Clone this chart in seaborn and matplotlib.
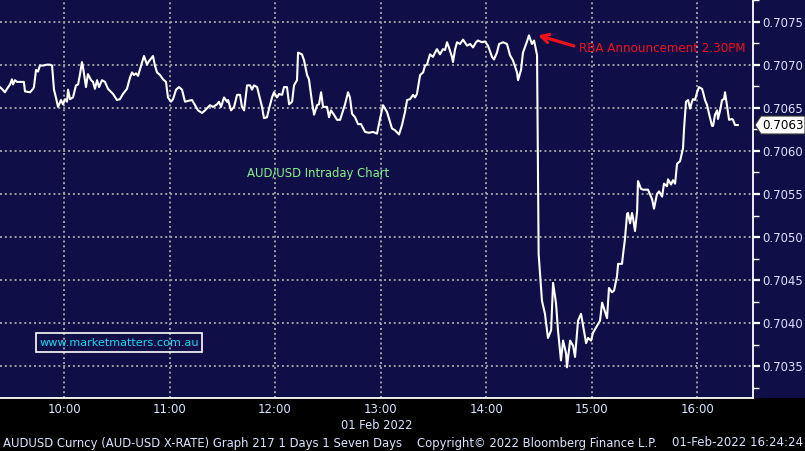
import matplotlib
matplotlib.use("Agg")
import matplotlib.pyplot as plt
import seaborn as sns
import pandas as pd
from matplotlib.patches import Rectangle, Polygon
from matplotlib import transforms

# ---------------- data ----------------
# minutes after 09:00 on 01 Feb 2022
minutes = [23.6, 25.1, 26.4, 27.6, 29.3, 30.4, 31.0, 32.1, 33.3, 36.1, 37.2, 37.8, 40.7, 42.4, 42.9,
           44.1, 45.2, 46.3, 48.1, 50.3, 52.0, 53.2, 54.3, 55.4, 56.6, 58.3, 59.4, 60.6, 61.7, 62.3,
           63.4, 65.1, 66.8, 68.0, 69.1, 70.2, 70.8, 72.5, 73.6, 75.4, 76.5, 77.6, 78.8, 79.9, 81.6,
           83.3, 85.0, 87.9, 90.1, 91.8, 93.5, 95.8, 97.5, 98.7, 99.8, 100.9, 102.1, 104.4, 105.5,
           107.2, 108.3, 110.6, 111.7, 112.9, 114.6, 116.3, 118.0, 119.1, 120.8, 122.0, 123.7, 125.4,
           127.1, 128.8, 130.5, 132.8, 134.5, 136.2, 138.5, 140.2, 143.0, 144.7, 147.0, 148.1, 149.3,
           151.0, 152.7, 153.3, 155.0, 156.7, 158.4, 160.1, 161.2, 162.4, 164.1, 165.8, 166.9, 168.0,
           169.8, 170.9, 172.6, 173.7, 175.4, 176.6, 178.3, 179.4, 181.1, 182.3, 184.0, 185.1, 186.8,
           188.0, 189.7, 190.8, 192.5, 193.1, 195.3, 196.5, 198.2, 199.3, 201.0, 202.2, 203.9, 205.0,
           206.2, 207.3, 209.6, 210.7, 211.8, 213.5, 215.3, 217.0, 218.1, 219.8, 221.5, 222.6, 223.8,
           225.5, 227.2, 228.9, 231.2, 233.4, 235.7, 238.0, 238.6, 239.7, 241.4, 243.7, 246.5, 248.2,
           250.5, 252.2, 253.9, 255.1, 256.8, 258.5, 259.6, 260.7, 262.5, 264.2, 265.3, 266.4, 268.1,
           269.8, 271.0, 272.1, 273.8, 275.5, 276.7, 277.8, 278.9, 280.6, 281.2, 282.4, 283.5, 285.2,
           286.9, 289.2, 290.9, 292.6, 294.3, 295.4, 297.7, 299.4, 301.1, 303.4, 304.5, 306.2, 307.4,
           309.7, 311.9, 313.6, 315.3, 317.6, 318.2, 319.9, 321.0, 323.3, 324.4, 326.1, 327.3, 329.0,
           329.9, 331.8, 333.5, 335.2, 337.0, 338.1, 339.8, 340.9, 342.6, 343.8, 345.5, 346.0, 347.8,
           349.5, 350.6, 352.3, 354.0, 355.2, 356.9, 358.0, 359.7, 360.8, 363.1, 364.8, 366.0, 367.1,
           368.8, 369.9, 371.6, 372.8, 374.5, 375.1, 377.3, 377.9, 379.0, 380.2, 380.7, 381.9, 383.0,
           383.6, 384.7, 385.9, 386.4, 388.1, 389.3, 392.1, 394.4, 395.5, 397.2, 398.4, 400.1, 401.2,
           402.9, 403.5, 405.2, 406.3, 407.5, 408.6, 410.3, 412.0, 412.6, 413.7, 414.9, 416.0, 417.1,
           417.7, 418.8, 420.0, 421.1, 422.8, 423.4, 424.5, 425.7, 426.8, 428.5, 429.1, 430.2, 431.4,
           431.9, 433.1, 434.2, 435.3, 435.9, 437.0, 438.2, 439.9, 440.4, 441.6, 443.3]
prices = [0.70674, 0.70671, 0.70668, 0.70672, 0.70677, 0.70683, 0.70677, 0.70682, 0.70680, 0.70680,
          0.70680, 0.70669, 0.70668, 0.70672, 0.70674, 0.70694, 0.70692, 0.70699, 0.70699, 0.70700,
          0.70700, 0.70699, 0.70671, 0.70662, 0.70651, 0.70659, 0.70654, 0.70660, 0.70657, 0.70671,
          0.70660, 0.70662, 0.70676, 0.70677, 0.70689, 0.70703, 0.70697, 0.70674, 0.70689, 0.70682,
          0.70680, 0.70672, 0.70682, 0.70674, 0.70682, 0.70680, 0.70672, 0.70666, 0.70659, 0.70660,
          0.70666, 0.70672, 0.70685, 0.70691, 0.70688, 0.70690, 0.70687, 0.70703, 0.70710, 0.70700,
          0.70704, 0.70710, 0.70699, 0.70691, 0.70688, 0.70683, 0.70680, 0.70662, 0.70657, 0.70660,
          0.70671, 0.70674, 0.70671, 0.70657, 0.70658, 0.70659, 0.70653, 0.70647, 0.70644, 0.70647,
          0.70653, 0.70651, 0.70654, 0.70657, 0.70651, 0.70662, 0.70657, 0.70659, 0.70647, 0.70651,
          0.70665, 0.70665, 0.70651, 0.70647, 0.70676, 0.70676, 0.70671, 0.70676, 0.70674, 0.70665,
          0.70651, 0.70638, 0.70639, 0.70649, 0.70662, 0.70668, 0.70662, 0.70666, 0.70665, 0.70674,
          0.70674, 0.70654, 0.70657, 0.70676, 0.70682, 0.70714, 0.70712, 0.70705, 0.70688, 0.70683,
          0.70657, 0.70642, 0.70653, 0.70654, 0.70668, 0.70651, 0.70651, 0.70639, 0.70647, 0.70642,
          0.70636, 0.70636, 0.70643, 0.70654, 0.70668, 0.70662, 0.70643, 0.70639, 0.70631, 0.70631,
          0.70622, 0.70621, 0.70622, 0.70620, 0.70626, 0.70637, 0.70653, 0.70645, 0.70626, 0.70624,
          0.70619, 0.70630, 0.70645, 0.70659, 0.70660, 0.70665, 0.70662, 0.70666, 0.70688, 0.70691,
          0.70699, 0.70700, 0.70712, 0.70709, 0.70714, 0.70718, 0.70712, 0.70718, 0.70717, 0.70726,
          0.70720, 0.70709, 0.70703, 0.70718, 0.70726, 0.70724, 0.70729, 0.70722, 0.70724, 0.70720,
          0.70726, 0.70728, 0.70726, 0.70727, 0.70722, 0.70709, 0.70706, 0.70714, 0.70724, 0.70726,
          0.70724, 0.70711, 0.70705, 0.70691, 0.70682, 0.70694, 0.70714, 0.70727, 0.70734, 0.70724,
          0.70728, 0.70711, 0.70480, 0.70426, 0.70411, 0.70383, 0.70392, 0.70447, 0.70423, 0.70392,
          0.70357, 0.70380, 0.70365, 0.70349, 0.70380, 0.70374, 0.70361, 0.70403, 0.70411, 0.70397,
          0.70377, 0.70383, 0.70380, 0.70389, 0.70397, 0.70403, 0.70424, 0.70417, 0.70406, 0.70441,
          0.70436, 0.70438, 0.70455, 0.70469, 0.70469, 0.70480, 0.70498, 0.70527, 0.70528, 0.70516,
          0.70528, 0.70522, 0.70507, 0.70530, 0.70565, 0.70556, 0.70555, 0.70555, 0.70544, 0.70533,
          0.70550, 0.70553, 0.70547, 0.70562, 0.70559, 0.70567, 0.70561, 0.70566, 0.70562, 0.70585,
          0.70588, 0.70603, 0.70626, 0.70657, 0.70659, 0.70649, 0.70657, 0.70660, 0.70659, 0.70668,
          0.70674, 0.70672, 0.70668, 0.70659, 0.70653, 0.70643, 0.70629, 0.70629, 0.70642, 0.70647,
          0.70637, 0.70647, 0.70659, 0.70660, 0.70668, 0.70653, 0.70636, 0.70637, 0.70636, 0.70630,
          0.70630]

hour_ticks = [60, 120, 180, 240, 300, 360, 420]
hour_labels = ["10:00", "11:00", "12:00", "13:00", "14:00", "15:00", "16:00"]
half_hour_ticks = [30, 90, 150, 210, 270, 330, 390, 450]
price_ticks = [0.7035, 0.7040, 0.7045, 0.7050, 0.7055, 0.7060, 0.7065, 0.7070, 0.7075]
price_minor = [0.70325, 0.70375, 0.70425, 0.70475, 0.70525, 0.70575, 0.70625, 0.70675, 0.70725, 0.70775]
last_price = 0.7063
date_label = "01 Feb 2022"
chart_title = "AUD/USD Intraday Chart"
event_label = "RBA Announcement 2.30PM"
event_time, event_price = 329.6, 0.70734
website = "www.marketmatters.com.au"
footer_left = "AUDUSD Curncy (AUD-USD X-RATE) Graph 217 1 Days 1 Seven Days"
footer_mid = "Copyright\u00a9 2022 Bloomberg Finance L.P."
footer_right = "01-Feb-2022 16:24:24"

df = pd.DataFrame({"minute": minutes, "price": prices})

# ---------------- figure ----------------
sns.set_style("dark")
plt.rcParams["font.family"] = ["DejaVu Sans"]
W, H = 805, 451
NAVY = "#0f0e46"
LABEL = "#dce4ff"
fig = plt.figure(figsize=(W / 100, H / 100), dpi=100, facecolor="black")
fig.patches.append(Rectangle((0, (H - 398) / H), 1, 398 / H, transform=fig.transFigure,
                             facecolor=NAVY, edgecolor="none", zorder=-10))
ax = fig.add_axes([0, (H - 398) / H, 753 / W, 398 / H])
ax.set_facecolor(NAVY)

sns.lineplot(data=df, x="minute", y="price", color="white", linewidth=1.5, ax=ax, zorder=5)
ax.set_xlim(23.6, 451.8)
ax.set_ylim(0.703134, 0.707719)
ax.set_xlabel("")
ax.set_ylabel("")

ax.set_xticks(hour_ticks)
ax.set_xticklabels(hour_labels)
ax.set_xticks(half_hour_ticks, minor=True)
ax.set_yticks(price_ticks)
ax.set_yticklabels([f"{v:.4f}" for v in price_ticks])
ax.set_yticks(price_minor, minor=True)
ax.yaxis.tick_right()

ax.grid(True, which="major", color="#9e9ea6", linestyle=(0, (1, 1.5)), linewidth=1.4)
ax.set_axisbelow(True)

for s in ["left", "top"]:
    ax.spines[s].set_visible(False)
for s in ["right", "bottom"]:
    ax.spines[s].set_visible(True)
    ax.spines[s].set_color("white")
    ax.spines[s].set_linewidth(1.3)

ax.tick_params(axis="x", which="major", length=0, pad=3.5, labelsize=8.5, labelcolor=LABEL)
ax.tick_params(axis="x", which="minor", length=3, width=1, color="white", direction="out")
ax.tick_params(axis="y", which="major", length=5, width=1.6, color="white", direction="out",
               pad=2, labelsize=8.4, labelcolor=LABEL, right=True, left=False)
ax.tick_params(axis="y", which="minor", length=4, width=1, color="white", direction="out",
               right=True, left=False)

fig.canvas.draw()
renderer = fig.canvas.get_renderer()


def fit(t, width_px):
    w = t.get_window_extent(renderer).width
    t.set_fontsize(t.get_fontsize() * width_px / w)


# date under 13:00
fig.text(377 / W, 1 - 425.5 / H, date_label, ha="center", va="center", color=LABEL, fontsize=8.3)

# footer
t1 = fig.text(3 / W, 1 - 443 / H, footer_left, ha="left", va="center", color=LABEL, fontsize=8)
fit(t1, 400)
t2 = fig.text(417 / W, 1 - 443 / H, footer_mid, ha="left", va="center", color=LABEL, fontsize=8)
fit(t2, 240)
t3 = fig.text(803 / W, 1 - 443 / H, footer_right, ha="right", va="center", color=LABEL, fontsize=8)
fit(t3, 130)

# chart title (green)
tt = ax.text(247 / 753, 1 - 174 / 398, chart_title, transform=ax.transAxes, ha="left", va="center",
             color="#86f08a", fontsize=9)
fit(tt, 142)

# RBA annotation
RED = "#f0101c"
tr = ax.text(579 / 753, 1 - 49 / 398, event_label, transform=ax.transAxes, ha="left", va="center",
             color=RED, fontsize=9)
fit(tr, 166)
ax.annotate("", xy=(event_time, event_price), xycoords="data",
            xytext=(574 / 753, 1 - 46 / 398), textcoords="axes fraction",
            arrowprops=dict(arrowstyle="->,head_length=0.55,head_width=0.3", color=RED, lw=2.3,
                            shrinkA=0, shrinkB=0))

# website box
ax.add_patch(Rectangle((36 / 753, 1 - 352 / 398), 166 / 753, 19 / 398, transform=ax.transAxes,
                       facecolor="none", edgecolor="white", linewidth=1.2, zorder=6))
tw = ax.text(119 / 753, 1 - 342.5 / 398, website, transform=ax.transAxes, ha="center", va="center",
             color="#18d8f0", fontsize=8.5, zorder=7)
fit(tw, 160)

# last price label
trans = transforms.blended_transform_factory(ax.transAxes, ax.transData)
ax_x, ax_y = trans.transform((1.0, last_price))
verts = [(ax_x + 2, ax_y), (ax_x + 8, ax_y + 9), (ax_x + 52, ax_y + 9),
         (ax_x + 52, ax_y - 9), (ax_x + 8, ax_y - 9)]
fig.patches.append(Polygon(verts, closed=True, transform=transforms.IdentityTransform(),
                           facecolor="white", edgecolor="#333333", linewidth=0.8, zorder=20))
fig.text((ax_x + 30) / W, ax_y / H, f"{last_price:.4f}", ha="center", va="center",
         color="black", fontsize=8.6, zorder=21)

fig.savefig("out.png", dpi=100, facecolor=fig.get_facecolor())
